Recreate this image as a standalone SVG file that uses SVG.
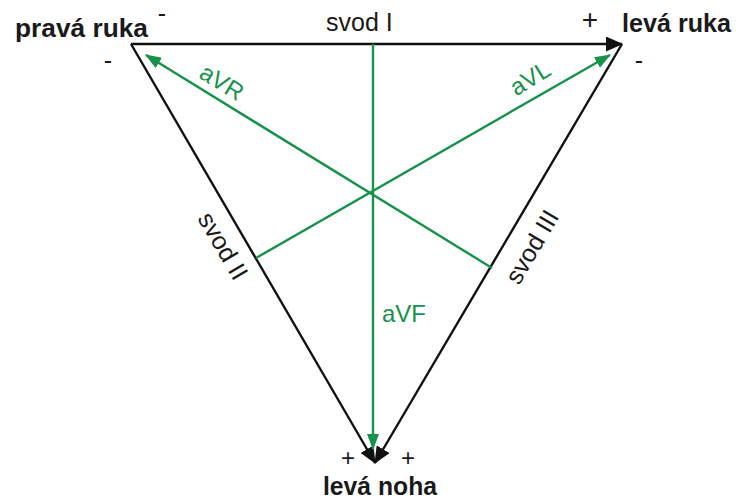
<svg xmlns="http://www.w3.org/2000/svg" width="739" height="502" viewBox="0 0 739 502">
<defs>
<marker id="abk" markerWidth="17" markerHeight="15" refX="16" refY="7.5" orient="auto" markerUnits="userSpaceOnUse" viewBox="0 0 17 15"><path d="M0,0 L17,7.5 L0,15 Z" fill="#111"/></marker>
<marker id="ag" markerWidth="16" markerHeight="12" refX="15" refY="6" orient="auto" markerUnits="userSpaceOnUse" viewBox="0 0 16 12"><path d="M0,0 L16,6 L0,12 Z" fill="#17924a"/></marker>
</defs>
<style>
.blk{stroke:#111;stroke-width:2.4;fill:none}
.grn{stroke:#17924a;stroke-width:2.4;fill:none}
.t{font-family:"Liberation Sans",Arial,sans-serif;font-size:25px;fill:#1a1a1a}
.b{font-weight:bold;font-size:26px}
.g{fill:#17924a;font-size:24px}
.p{font-size:28px}
.q{font-size:24px}
</style>
<g id="connectors">
<line class="blk" x1="131" y1="44" x2="622" y2="44" marker-end="url(#abk)"/>
<line class="blk" x1="131" y1="44" x2="375" y2="463" marker-end="url(#abk)"/>
<line class="blk" x1="622" y1="44" x2="375" y2="463" marker-end="url(#abk)"/>
<line class="grn" x1="373" y1="44" x2="373" y2="449" marker-end="url(#ag)"/>
<line class="grn" x1="492" y1="268" x2="146" y2="55" marker-end="url(#ag)"/>
<line class="grn" x1="256" y1="258" x2="610" y2="55" marker-end="url(#ag)"/>
</g>
<g id="pravaruka">
<text class="t b" x="15" y="37" textLength="133" lengthAdjust="spacingAndGlyphs">pravá ruka</text>
<text class="t" x="162" y="22" font-size="22" text-anchor="middle">-</text>
<text class="t" x="108" y="69" text-anchor="middle">-</text>
</g>
<g id="levaruka">
<text class="t b" x="622" y="32" textLength="109" lengthAdjust="spacingAndGlyphs">levá ruka</text>
<text class="t p" x="590" y="29" text-anchor="middle">+</text>
<text class="t" x="639" y="69" text-anchor="middle">-</text>
</g>
<g id="levanoha">
<text class="t b" x="323" y="495" textLength="114" lengthAdjust="spacingAndGlyphs">levá noha</text>
<text class="t q" x="348" y="466" text-anchor="middle">+</text>
<text class="t q" x="408" y="466" text-anchor="middle">+</text>
</g>
<g id="labels">
<text class="t" x="326" y="31" font-size="26">svod I</text>
<text class="t" transform="translate(223,246) rotate(59.7)" text-anchor="middle" dy="8.5">svod II</text>
<text class="t" transform="translate(532,247) rotate(-59.7)" text-anchor="middle" dy="8.5">svod III</text>
<text class="t g" transform="translate(222,82) rotate(31.5)" text-anchor="middle" dy="8.5">aVR</text>
<text class="t g" transform="translate(530,78) rotate(-31.5)" text-anchor="middle" dy="8.5">aVL</text>
<text class="t g" x="382" y="322">aVF</text>
</g>
</svg>
